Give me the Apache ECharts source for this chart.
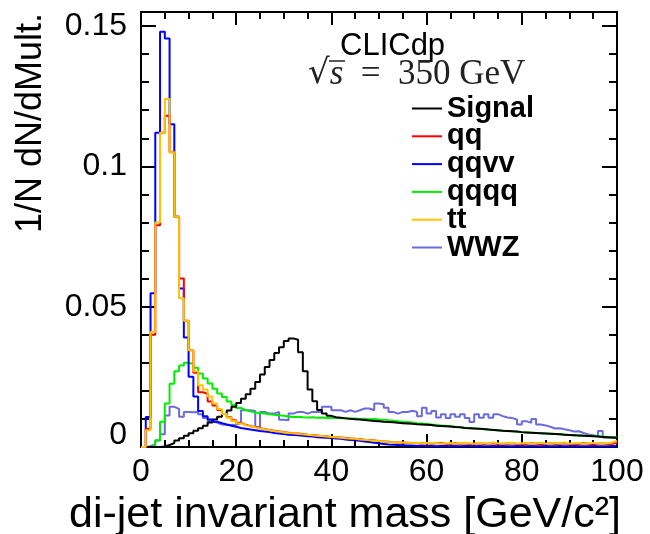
<!DOCTYPE html>
<html><head><meta charset="utf-8">
<script src="https://cdn.jsdelivr.net/npm/echarts@6/dist/echarts.min.js"></script>
<style>html,body{margin:0;padding:0;background:#fff}#c{width:650px;height:534px}</style>
</head><body><div id="c"></div>
<script>
// ---- data (1 GeV bins from 0 to 100) ----
const binLow = 0;
const binWidth = 1;
const seriesNames = ['Signal', 'qq', 'qqvv', 'qqqq', 'tt', 'WWZ'];
const xTickLabels = ['0', '20', '40', '60', '80', '100'];
const yTickLabels = ['0', '0.05', '0.1', '0.15'];

const signal = [
 0, 0, 0, 0, 0.0002, 0.0007, 0.0014, 0.0023, 0.0031, 0.0040,
 0.0049, 0.0058, 0.0067, 0.0076, 0.0087, 0.0098, 0.0108, 0.0118, 0.0130, 0.0143,
 0.0157, 0.0172, 0.0188, 0.0208, 0.0232, 0.0258, 0.0285, 0.0310, 0.0335, 0.0355,
 0.0378, 0.0387, 0.0382, 0.0338, 0.0270, 0.0205, 0.0163, 0.0132, 0.0119, 0.0111,
 0.0106, 0.0104, 0.0102, 0.0101, 0.0099, 0.0098, 0.0096, 0.0094, 0.0093, 0.0092,
 0.0090, 0.0089, 0.0088, 0.0086, 0.0085, 0.0084, 0.0083, 0.0081, 0.0080, 0.0079,
 0.0078, 0.0076, 0.0075, 0.0074, 0.0073, 0.0071, 0.0070, 0.0068, 0.0067, 0.0066,
 0.0065, 0.0064, 0.0062, 0.0061, 0.0060, 0.0058, 0.0057, 0.0056, 0.0055, 0.0053,
 0.0052, 0.0051, 0.0050, 0.0049, 0.0048, 0.0047, 0.0046, 0.0045, 0.0044, 0.0043,
 0.0042, 0.0041, 0.0040, 0.0039, 0.0038, 0.0037, 0.0036, 0.0035, 0.0034, 0.0033
];
const qq = [
 0, 0.0065, 0.0400, 0.0790, 0.1120, 0.1180, 0.1050, 0.0820, 0.0600, 0.0450,
 0.0345, 0.0265, 0.0195, 0.0190, 0.0162, 0.0148, 0.0132, 0.0118, 0.0106, 0.0095,
 0.0086, 0.0079, 0.0074, 0.0071, 0.0067, 0.0064, 0.0061, 0.0058, 0.0056, 0.0053,
 0.0051, 0.0049, 0.0048, 0.0046, 0.0044, 0.0043, 0.0041, 0.0039, 0.0038, 0.0036,
 0.0035, 0.0034, 0.0032, 0.0030, 0.0029, 0.0028, 0.0026, 0.0025, 0.0023, 0.0021,
 0.0020, 0.0019, 0.0017, 0.0016, 0.0015, 0.0015, 0.0014, 0.0013, 0.0014, 0.0013,
 0.0012, 0.0013, 0.0014, 0.0012, 0.0011, 0.0013, 0.0012, 0.0013, 0.0011, 0.0012,
 0.0013, 0.0011, 0.0012, 0.0013, 0.0011, 0.0012, 0.0012, 0.0013, 0.0011, 0.0012,
 0.0011, 0.0013, 0.0012, 0.0011, 0.0012, 0.0013, 0.0011, 0.0012, 0.0013, 0.0011,
 0.0012, 0.0011, 0.0013, 0.0012, 0.0011, 0.0012, 0.0013, 0.0011, 0.0012, 0.0014
];
const qqvv = [
 0, 0.0107, 0.0548, 0.1120, 0.1480, 0.1456, 0.1150, 0.0820, 0.0565, 0.0390,
 0.0250, 0.0180, 0.0128, 0.0110, 0.0098, 0.0090, 0.0085, 0.0080, 0.0076, 0.0072,
 0.0068, 0.0065, 0.0062, 0.0060, 0.0057, 0.0055, 0.0053, 0.0050, 0.0048, 0.0046,
 0.0044, 0.0043, 0.0042, 0.0040, 0.0038, 0.0037, 0.0035, 0.0034, 0.0033, 0.0032,
 0.0030, 0.0029, 0.0027, 0.0025, 0.0024, 0.0022, 0.0020, 0.0018, 0.0015, 0.0013,
 0.0011, 0.0009, 0.0008, 0.0007, 0.0006, 0.0005, 0.0005, 0.0004, 0.0005, 0.0004,
 0.0004, 0.0003, 0.0004, 0.0004, 0.0003, 0.0004, 0.0003, 0.0004, 0.0004, 0.0003,
 0.0004, 0.0003, 0.0003, 0.0004, 0.0003, 0.0004, 0.0003, 0.0003, 0.0004, 0.0003,
 0.0003, 0.0004, 0.0003, 0.0003, 0.0004, 0.0003, 0.0003, 0.0004, 0.0003, 0.0003,
 0.0004, 0.0003, 0.0003, 0.0003, 0.0004, 0.0003, 0.0003, 0.0003, 0.0004, 0.0003
];
const qqqq = [
 0, 0, 0.0006, 0.0024, 0.0090, 0.0155, 0.0225, 0.0270, 0.0290, 0.0300,
 0.0296, 0.0282, 0.0262, 0.0244, 0.0226, 0.0208, 0.0191, 0.0178, 0.0162, 0.0150,
 0.0139, 0.0132, 0.0127, 0.0123, 0.0121, 0.0119, 0.0117, 0.0115, 0.0113, 0.0111,
 0.0109, 0.0107, 0.0108, 0.0106, 0.0105, 0.0106, 0.0104, 0.0105, 0.0103, 0.0104,
 0.0103, 0.0102, 0.0103, 0.0101, 0.0102, 0.0100, 0.0101, 0.0099, 0.0100, 0.0098,
 0.0097, 0.0095, 0.0094, 0.0092, 0.0090, 0.0089, 0.0087, 0.0085, 0.0084, 0.0082,
 0.0080, 0.0079, 0.0077, 0.0076, 0.0074, 0.0072, 0.0071, 0.0069, 0.0068, 0.0066,
 0.0065, 0.0063, 0.0062, 0.0061, 0.0059, 0.0058, 0.0057, 0.0056, 0.0054, 0.0053,
 0.0052, 0.0051, 0.0050, 0.0049, 0.0048, 0.0047, 0.0046, 0.0045, 0.0044, 0.0043,
 0.0042, 0.0041, 0.0040, 0.0040, 0.0039, 0.0038, 0.0037, 0.0036, 0.0035, 0.0035
];
const tt = [
 0, 0.0060, 0.0410, 0.0800, 0.1120, 0.1240, 0.1050, 0.0820, 0.0530, 0.0450,
 0.0345, 0.0270, 0.0220, 0.0205, 0.0180, 0.0155, 0.0135, 0.0118, 0.0104, 0.0093,
 0.0084, 0.0078, 0.0073, 0.0070, 0.0066, 0.0063, 0.0060, 0.0057, 0.0055, 0.0052,
 0.0050, 0.0049, 0.0047, 0.0045, 0.0044, 0.0042, 0.0040, 0.0039, 0.0037, 0.0036,
 0.0035, 0.0033, 0.0031, 0.0030, 0.0029, 0.0027, 0.0026, 0.0024, 0.0022, 0.0021,
 0.0020, 0.0018, 0.0017, 0.0016, 0.0016, 0.0015, 0.0014, 0.0015, 0.0013, 0.0014,
 0.0013, 0.0015, 0.0012, 0.0013, 0.0014, 0.0012, 0.0013, 0.0015, 0.0013, 0.0012,
 0.0014, 0.0013, 0.0012, 0.0016, 0.0013, 0.0012, 0.0014, 0.0015, 0.0012, 0.0013,
 0.0014, 0.0012, 0.0013, 0.0015, 0.0012, 0.0013, 0.0014, 0.0013, 0.0016, 0.0012,
 0.0013, 0.0014, 0.0012, 0.0013, 0.0015, 0.0012, 0.0014, 0.0013, 0.0016, 0.0022
];
const wwz = [
 0, 0.0003, 0.0010, 0.0023, 0.0045, 0.0112, 0.0143, 0.0136, 0.0108, 0.0125,
 0.0124, 0.0125, 0.0117, 0.0103, 0.0092, 0.0087, 0.0080, 0.0079, 0.0078, 0.0079,
 0.0085, 0.0131, 0.0131, 0.0128, 0.0071, 0.0125, 0.0119, 0.0119, 0.0125, 0.0097,
 0.0095, 0.0119, 0.0125, 0.0125, 0.0119, 0.0125, 0.0125, 0.0125, 0.0143, 0.0143,
 0.0131, 0.0131, 0.0125, 0.0131, 0.0125, 0.0131, 0.0137, 0.0137, 0.0131, 0.0155,
 0.0152, 0.0140, 0.0125, 0.0119, 0.0125, 0.0125, 0.0129, 0.0125, 0.0110, 0.0140,
 0.0119, 0.0128, 0.0105, 0.0117, 0.0103, 0.0117, 0.0108, 0.0117, 0.0103, 0.0089,
 0.0117, 0.0104, 0.0117, 0.0104, 0.0117, 0.0110, 0.0105, 0.0103, 0.0098, 0.0080,
 0.0092, 0.0086, 0.0100, 0.0080, 0.0077, 0.0072, 0.0066, 0.0067, 0.0063, 0.0060,
 0.0055, 0.0056, 0.0050, 0.0045, 0.0042, 0.0038, 0.0057, 0.0034, 0.0033, 0.0033
];

// ---- chart ----
const FONT = '"Liberation Sans", Arial, Helvetica, sans-serif';
const yMax = 0.155;
const colors = { Signal: '#000000', qq: '#ff0000', qqvv: '#0000ff', qqqq: '#00ee00', tt: '#ffc400', WWZ: '#6b6bdd' };
const values = { Signal: signal, qq: qq, qqvv: qqvv, qqqq: qqqq, tt: tt, WWZ: wwz };
const drawOrder = ['WWZ', 'qqqq', 'Signal', 'qqvv', 'qq', 'tt'];

function hist(vals) {
  const pts = vals.map((v, i) => [binLow + i * binWidth, v]);
  pts.push([binLow + vals.length * binWidth, vals[vals.length - 1]]);
  return pts;
}
function yFmt(v) {
  const k = Math.round(v / 0.05);
  if (Math.abs(v - k * 0.05) > 1e-9 || k >= yTickLabels.length) return '';
  return k === 0 ? '{z|' + yTickLabels[0] + '}' : yTickLabels[k];
}
function xFmt(v) {
  const k = Math.round(v / 20);
  return xTickLabels[k] || '';
}
const black = { color: '#000', width: 2 };
const yBase = { type: 'value', min: 0, max: yMax, splitLine: { show: false }, axisLine: { show: false, onZero: false } };
const xBase = { type: 'value', min: 0, max: 100, interval: 20, splitLine: { show: false },
  axisLine: { show: true, onZero: false, lineStyle: black },
  axisTick: { inside: true, length: 13, lineStyle: black },
  minorTick: { show: true, splitNumber: 4, length: 7, lineStyle: black } };

const chart = echarts.init(document.getElementById('c'), null, { renderer: 'canvas' });
chart.setOption({
  animation: false,
  backgroundColor: '#fff',
  grid: { left: 141, right: 33, top: 12, bottom: 87, containLabel: false, outerBoundsMode: 'none' },
  xAxis: [
    Object.assign({}, xBase, { position: 'bottom',
      axisLabel: { margin: 9, fontSize: 32, fontFamily: FONT, color: '#000', formatter: xFmt } }),
    Object.assign({}, xBase, { position: 'top', axisLabel: { show: false } })
  ],
  yAxis: [
    Object.assign({}, yBase, { position: 'left', interval: 0.01,
      axisLine: { show: true, onZero: false, lineStyle: black },
      axisTick: { inside: true, length: 8, lineStyle: black },
      axisLabel: { margin: 14, fontSize: 32, fontFamily: FONT, color: '#000', formatter: yFmt,
        rich: { z: { fontSize: 32, fontFamily: FONT, color: '#000', padding: [0, 0, 24, 0] } } } }),
    Object.assign({}, yBase, { position: 'left', interval: 0.05,
      axisTick: { inside: true, length: 15, lineStyle: black }, axisLabel: { show: false } }),
    Object.assign({}, yBase, { position: 'right', interval: 0.01,
      axisLine: { show: true, onZero: false, lineStyle: black },
      axisTick: { inside: true, length: 8, lineStyle: black }, axisLabel: { show: false } }),
    Object.assign({}, yBase, { position: 'right', interval: 0.05,
      axisTick: { inside: true, length: 15, lineStyle: black }, axisLabel: { show: false } })
  ],
  legend: {
    orient: 'vertical', left: 412, top: 94, padding: 0, itemWidth: 30, itemHeight: 2, itemGap: -1.2,
    icon: 'rect',
    data: seriesNames,
    textStyle: { fontFamily: FONT, fontWeight: 'bold', fontSize: 29, lineHeight: 20, color: '#000' }
  },
  series: drawOrder.map(n => ({
    type: 'line', name: n, data: hist(values[n]), step: 'end',
    symbol: 'none', showSymbol: false, xAxisIndex: 0, yAxisIndex: 0,
    lineStyle: { color: colors[n], width: 2 }, itemStyle: { color: colors[n] },
    emphasis: { disabled: true }
  })),
  graphic: [
    { type: 'text', x: 31, y: 13, rotation: Math.PI / 2,
      style: { text: '1/N dN/dMult.', font: '36px ' + FONT, fill: '#000', align: 'right', verticalAlign: 'middle' } },
    { type: 'text', right: 29, top: 494,
      style: { text: 'di-jet invariant mass [GeV/c²]', font: '43px ' + FONT, fill: '#000' } },
    { type: 'text', left: 340, top: 31,
      style: { text: 'CLICdp', font: '31px ' + FONT, fill: '#000' } },
    { type: 'text', left: 308, top: 57,
      style: { text: '{a|√}{b|s}{c|  =  350 GeV}',
        rich: { a: { font: '34px "DejaVu Serif"', fill: '#222' },
                b: { font: 'italic 35px "Liberation Serif"', fill: '#222' },
                c: { font: '35px "Liberation Serif"', fill: '#222' } } } },
    { type: 'line', shape: { x1: 329, y1: 61, x2: 345, y2: 61 }, style: { stroke: '#222', lineWidth: 1.5 } }
  ]
});
</script></body></html>
